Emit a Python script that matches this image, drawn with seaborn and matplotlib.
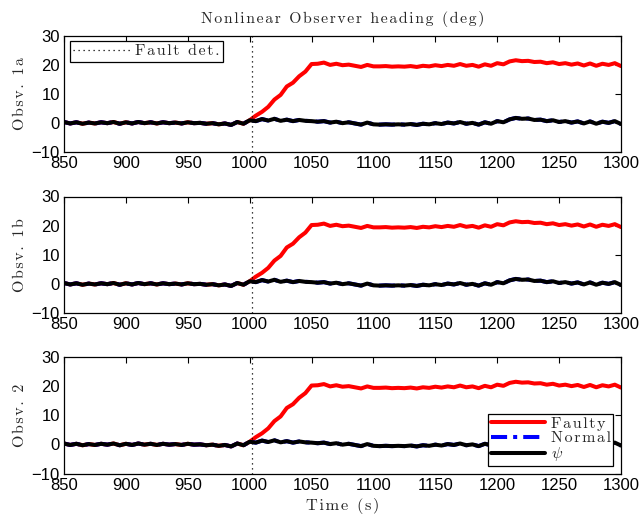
import numpy as np
import pandas as pd
import seaborn as sns
import matplotlib
matplotlib.use("Agg")
import matplotlib.pyplot as plt
from matplotlib.lines import Line2D

# --- data -----------------------------------------------------------------
time_s = list(range(850, 1301, 5))

psi = [
    0.3, -0.2, 0.2, -0.3, 0.1, -0.2, 0.2, -0.1, 0.3, -0.3,
    0.2, -0.2, 0.3, -0.1, 0.2, -0.2, 0.2, -0.1, 0.1, -0.2,
    0.2, -0.1, 0.0, -0.3, -0.1, -0.5, -0.2, -0.7, 0.3, -0.3,
    0.9, 0.6, 1.3, 0.8, 1.4, 0.7, 1.1, 0.6, 1.0, 0.7,
    0.6, 0.4, 0.6, 0.1, 0.4, -0.1, 0.2, -0.2, -0.6, 0.1,
    -0.5, -0.6, -0.5, -0.6, -0.5, -0.6, -0.4, -0.7, -0.3, -0.5,
    -0.1, -0.4, 0.1, -0.2, 0.3, -0.3, 0.0, -0.6, 0.2, -0.3,
    0.6, 0.2, 1.2, 1.7, 1.4, 1.5, 1.0, 1.1, 0.6, 0.9,
    0.3, 0.6, 0.1, 0.5, -0.2, 0.5, -0.3, 0.4, 0.0, 0.6,
    -0.4,
]

normal = [
    0.3, -0.2, 0.2, -0.3, 0.1, -0.2, 0.2, -0.1, 0.3, -0.3,
    0.2, -0.2, 0.3, -0.1, 0.2, -0.2, 0.2, -0.1, 0.1, -0.2,
    0.2, -0.1, 0.0, -0.3, -0.1, -0.5, -0.2, -0.7, 0.3, -0.3,
    0.9, 0.6, 1.3, 0.8, 1.4, 0.7, 1.1, 0.6, 1.0, 0.7,
    0.6, 0.4, 0.6, 0.1, 0.4, -0.1, 0.2, -0.2, -0.6, 0.1,
    -0.5, -0.6, -0.5, -0.6, -0.5, -0.6, -0.4, -0.7, -0.3, -0.5,
    -0.1, -0.4, 0.1, -0.2, 0.3, -0.3, 0.0, -0.6, 0.2, -0.3,
    0.6, 0.2, 1.2, 1.7, 1.4, 1.5, 1.0, 1.1, 0.6, 0.9,
    0.3, 0.6, 0.1, 0.5, -0.2, 0.5, -0.3, 0.4, 0.0, 0.6,
    -0.4,
]

faulty = [
    0.3, -0.2, 0.2, -0.3, 0.1, -0.2, 0.2, -0.1, 0.3, -0.3,
    0.2, -0.2, 0.3, -0.1, 0.2, -0.2, 0.2, -0.1, 0.1, -0.2,
    0.2, -0.1, 0.0, -0.3, -0.1, -0.5, -0.2, -0.7, 0.3, -0.3,
    0.9, 2.5, 3.8, 5.5, 8.0, 9.6, 12.5, 13.8, 16.0, 17.6,
    20.2, 20.3, 20.7, 19.9, 20.3, 19.8, 20.0, 19.6, 19.2, 19.9,
    19.4, 19.4, 19.5, 19.3, 19.4, 19.3, 19.5, 19.2, 19.6, 19.4,
    19.8, 19.5, 19.9, 19.6, 20.2, 19.6, 19.9, 19.3, 20.1, 19.6,
    20.5, 20.1, 21.1, 21.5, 21.2, 21.3, 20.9, 21.0, 20.5, 20.8,
    20.2, 20.5, 20.0, 20.4, 19.7, 20.4, 19.6, 20.3, 19.9, 20.5,
    19.5,
]

fault_detect_time = 1002
panel_labels = ["Obsv. 1a", "Obsv. 1b", "Obsv. 2"]
series_names = ["Faulty", "Normal", r"$\psi$"]
x_ticks = list(range(850, 1301, 50))
y_ticks = [-10, 0, 10, 20, 30]

# --- style ----------------------------------------------------------------
sns.set_style("white")
plt.rcParams["mathtext.fontset"] = "cm"
plt.rcParams["font.family"] = ["Liberation Sans", "DejaVu Sans"]
plt.rcParams["axes.unicode_minus"] = True
serif = ["cmr10", "DejaVu Serif"]


def tracked(s):
    """Loosen letter spacing with hair spaces between glyphs."""
    return "\u200a".join(s)


colors = {"Faulty": "#ff0000", "Normal": "#0000ff", r"$\psi$": "#000000"}
dashes = {"Faulty": "", "Normal": (4, 1.5, 1, 1.5), r"$\psi$": ""}
lw = 2.9

frames = []
for name, vals in zip(series_names, [faulty, normal, psi]):
    frames.append(pd.DataFrame({"time": time_s, "value": vals, "series": name}))
df = pd.concat(frames, ignore_index=True)

fig = plt.figure(figsize=(6.41, 5.21), dpi=100)
left, width = 64 / 641, 557 / 641
tops = [35.5, 196.5, 357.0]
h_px = 116.5

axes = []
for top in tops:
    ax = fig.add_axes([left, (521 - top - h_px) / 521, width, h_px / 521])
    axes.append(ax)

for ax, lab in zip(axes, panel_labels):
    sns.lineplot(data=df, x="time", y="value", hue="series", style="series",
                 hue_order=series_names, style_order=series_names,
                 palette=colors, dashes=dashes, estimator=None, sort=False,
                 linewidth=lw, legend=False, ax=ax)
    ax.axvline(fault_detect_time, color="black", linestyle=(0, (1, 3)), linewidth=0.9)
    ax.set_xlim(850, 1300)
    ax.set_ylim(-10, 30)
    ax.set_xticks(x_ticks)
    ax.set_yticks(y_ticks)
    ax.tick_params(direction="in", length=4, width=0.8, top=True, right=True,
                   labelsize=12, colors="black", pad=3)
    for s in ax.spines.values():
        s.set_color("black")
        s.set_linewidth(0.9)
    ax.set_xlabel("")
    ax.set_ylabel(tracked(lab), family=serif, fontsize=11.5)
    ax.yaxis.set_label_coords(-0.066, 0.5)

axes[0].set_title(tracked("Nonlinear Observer heading (deg)"), family=serif,
                  fontsize=11.3, pad=9)
axes[2].set_xlabel(tracked("Time (s)"), family=serif, fontsize=11.8, labelpad=4)

fd_handle = [Line2D([], [], color="black", linestyle=(0, (1, 3)), linewidth=0.9)]
leg1 = axes[0].legend(fd_handle, [tracked("Fault det.")], loc="upper left",
                      prop={"family": serif, "size": 11.5}, frameon=True, fancybox=False,
                      edgecolor="black", framealpha=1, borderpad=0.2,
                      handlelength=3.6, handletextpad=0.3, borderaxespad=0.35)
leg1.get_frame().set_linewidth(0.9)

series_handles = [
    Line2D([], [], color=colors["Faulty"], linewidth=lw),
    Line2D([], [], color=colors["Normal"], linewidth=lw, dashes=dashes["Normal"]),
    Line2D([], [], color=colors[r"$\psi$"], linewidth=lw),
]
series_labels = [tracked("Faulty"), tracked("Normal"), r"$\psi$"]
leg3 = axes[2].legend(series_handles, series_labels, loc="lower right",
                      prop={"family": serif, "size": 11.5}, frameon=True, fancybox=False,
                      edgecolor="black", framealpha=1, borderpad=0.15, labelspacing=0.0,
                      handlelength=3.4, handletextpad=0.35, borderaxespad=0.5)
leg3.get_frame().set_linewidth(0.9)

fig.savefig("out.png", dpi=100)
